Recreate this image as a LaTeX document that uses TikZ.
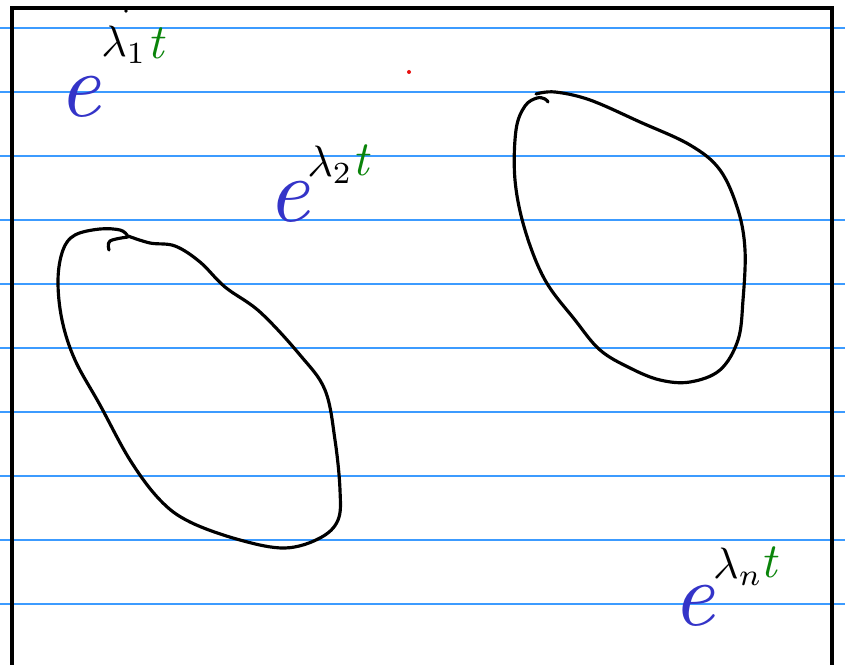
\documentclass[tikz,border=0pt]{standalone}
\usetikzlibrary{positioning}
\definecolor{RuleBlue}{HTML}{3C9BFF}
\definecolor{InkBlue}{HTML}{3434C8}
\definecolor{InkGreen}{HTML}{0A840A}
\definecolor{InkRed}{HTML}{E81010}

\begin{document}
\begin{tikzpicture}[
    x=0.02cm, y=-0.02cm,
    rule/.style={RuleBlue, line width=0.6pt},
    frame/.style={black, line width=2.2pt},
    ink/.style={black, line width=1.8pt, line cap=round, line join=round},
    ebase/.style={inner sep=0pt, text=InkBlue, scale=5.2, font=\itshape},
    lam/.style={inner sep=0pt, text=black, scale=2.5},
    tvar/.style={inner sep=0pt, text=InkGreen, scale=2.8, font=\itshape},
  ]
    \useasboundingbox (0,0) rectangle (845,665);
    \fill[white] (0,0) rectangle (845,665);

    % ruled paper
    \foreach \yy in {28,92,...,604}
      \draw[rule] (0,\yy) -- (845,\yy);

    % page frame
    \draw[frame] (12,680) -- (12,8) -- (832,8) -- (832,680);
    \fill[black] (126,11) circle (1.8);
    \fill[InkRed] (409,72) circle (2);

    % e^{lambda_1 t}
    \node[ebase] (e1) at (80,97)  {e};
    \node[lam]   (l1) at (124,45) {$\lambda_1$};
    \node[tvar]  (t1) at (156,43) {t};

    % e^{lambda_2 t}
    \node[ebase] (e2) at (289,202) {e};
    \node[lam]   (l2) at (330,165) {$\lambda_2$};
    \node[tvar]  (t2) at (361,160) {t};

    % e^{lambda_n t}
    \node[ebase] (en) at (694,606) {e};
    \node[lam]   (ln) at (738,567) {$\lambda_n$};
    \node[tvar]  (tn) at (769,562) {t};

    % left region
    \draw[ink] plot[smooth, tension=0.6] coordinates {
      (128,236) (150,243) (175,246) (200,262) (225,287) (260,312) (300,355)
      (325,390) (335,440) (340,490) (338,520) (320,538) (285,548) (240,540)
      (190,522) (160,500) (130,460) (100,405) (75,360) (62,320) (58,280)
      (63,250) (75,235) (100,229) (120,230) (127,235)};
    \draw[ink] plot[smooth, tension=0.6] coordinates {(109,250) (110,241) (128,237)};

    % right region
    \draw[ink] plot[smooth, tension=0.6] coordinates {
      (536,94) (555,92) (590,100) (640,122) (690,145) (720,170) (738,210)
      (745,250) (743,300) (738,340) (720,370) (690,382) (660,380) (630,368)
      (600,350) (575,320) (545,280) (525,230) (515,180) (516,130) (525,106)
      (537,98) (545,99) (548,102)};
\end{tikzpicture}
\end{document}
